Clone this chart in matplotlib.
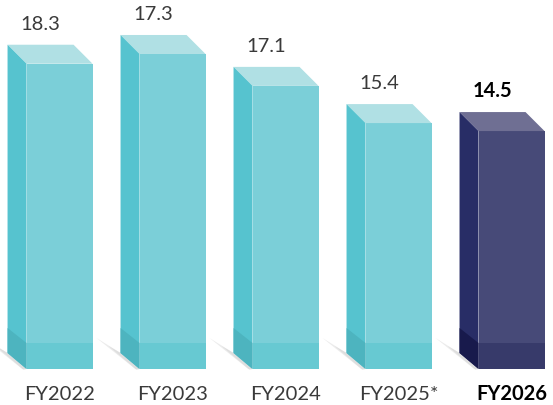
import matplotlib.pyplot as plt
from matplotlib.patches import Polygon

# data
years = ["FY2022", "FY2023", "FY2024", "FY2025*", "FY2026"]
values = [18.3, 17.3, 17.1, 15.4, 14.5]
# bar heights as drawn in the original graphic (not strictly proportional)
drawn_heights = [18.3, 18.85, 17.05, 14.95, 14.5]
highlight = [False, False, False, False, True]

# styling (pixel sizes converted to data units)
PX_X = 1 / 113
PX_Y = 1 / 17.72
WIDTH = 66 * PX_X
DX = 19 * PX_X
DY_TOP = 19 * PX_Y
DY_BOT = 16 * PX_Y
BAND_FRONT = 26 * PX_Y
BAND_SIDE = 41 * PX_Y

TEAL = dict(front="#7BCFD8", top="#B0E0E4", side="#56C3CF",
            band="#67C9D2", side_band="#4DB4BF")
NAVY = dict(front="#474A78", top="#6F6F93", side="#282D66",
            band="#373A6A", side_band="#181A4C")
TEXT = "#3a3a3a"


def poly(ax, pts, color, z=2, alpha=1.0):
    ax.add_patch(Polygon(pts, closed=True, facecolor=color, edgecolor="none",
                         zorder=z, alpha=alpha))


def draw_bar(ax, x, h, c):
    left = x - WIDTH / 2
    right = x + WIDTH / 2
    # soft shadow to the left of the base
    poly(ax, [(left - DX - 24 * PX_X, 31 * PX_Y), (left - DX, DY_BOT),
              (left, 0), (left - 3 * PX_X, -1 * PX_Y)], "#ececec", z=1)
    poly(ax, [(left - DX - 12 * PX_X, 23 * PX_Y), (left - DX, DY_BOT),
              (left, 0), (left - 4 * PX_X, 0)], "#dedede", z=1)
    # front
    poly(ax, [(left, 0), (right, 0), (right, h - DY_TOP), (left, h - DY_TOP)], c["front"])
    poly(ax, [(left, 0), (right, 0), (right, BAND_FRONT), (left, BAND_FRONT)], c["band"], z=3)
    # top
    poly(ax, [(left, h - DY_TOP), (right, h - DY_TOP), (right - DX, h), (left - DX, h)], c["top"])
    # side
    poly(ax, [(left - DX, h), (left, h - DY_TOP), (left, 0), (left - DX, DY_BOT)], c["side"])
    poly(ax, [(left - DX, BAND_SIDE), (left, BAND_FRONT), (left, 0), (left - DX, DY_BOT)],
         c["side_band"], z=3)


fig = plt.figure(figsize=(5.53, 4.05), dpi=100)
ax = fig.add_axes([0, 0, 1, 1])
ax.set_xlim(-0.527, 4.367)
ax.set_ylim(-36 * PX_Y, 369 * PX_Y)
ax.axis("off")

font = ["Lato", "DejaVu Sans"]
for i, (year, val, h, hl) in enumerate(zip(years, values, drawn_heights, highlight)):
    draw_bar(ax, i, h, NAVY if hl else TEAL)
    weight = "bold" if hl else "normal"
    color = "black" if hl else TEXT
    ax.text(i - DX, h + 15 * PX_Y, f"{val:.1f}", ha="center", va="baseline",
            fontsize=14.5, fontweight=weight, color=color, family=font)
    ax.text(i, -31 * PX_Y, year, ha="center", va="baseline",
            fontsize=14.5, fontweight=weight, color=color, family=font)

fig.savefig("out.png", dpi=100)
